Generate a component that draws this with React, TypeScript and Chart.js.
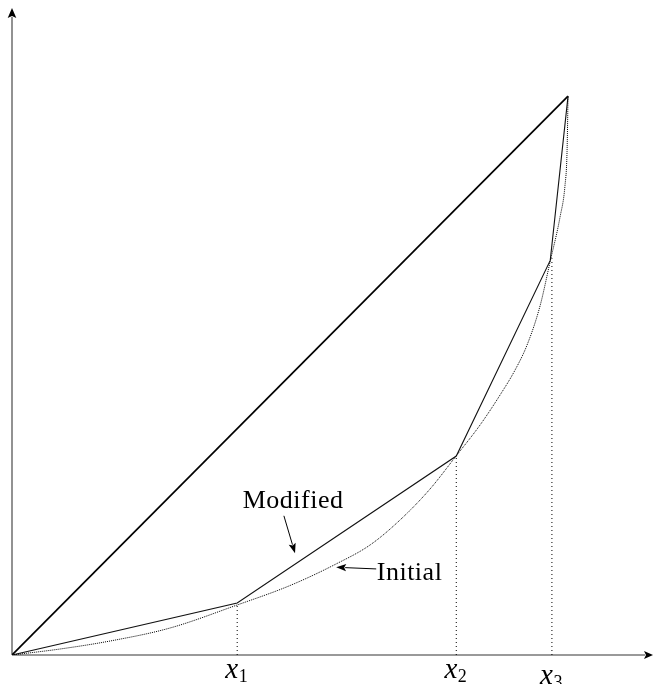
import React, { useEffect, useRef } from "react";
import { Chart, registerables } from "chart.js";

Chart.register(...registerables);

// Initial (Lorenz-type) curve
const curveX = [0, 8.63, 17.63, 28.42, 40.47, 50.0, 58.27, 64.39, 69.78, 75.18, 79.86, 84.17, 87.77, 90.47, 92.63, 94.96, 96.76, 98.56, 99.46, 99.82, 100];
const curveY = [0, 1.07, 2.5, 4.83, 8.94, 12.43, 16.28, 19.68, 24.15, 29.7, 35.6, 41.14, 46.51, 50.98, 55.46, 62.43, 70.3, 78.35, 84.08, 89.98, 100];

// Modified piecewise-linear curve
const modifiedX = [0, 40.5, 79.9, 96.8, 100];
const modifiedY = [0, 9.3, 35.6, 70.6, 100];

// Line of equality
const equalityX = [0, 100];
const equalityY = [0, 100];

// Cut points x1, x2, x3 and the height of their dotted guides
const cutX = [40.5, 79.9, 97.1];
const cutTop = [8.9, 35.6, 71.0];
const cutSubscripts = ["1", "2", "3"];

const zip = (xs: number[], ys: number[]) => xs.map((x, i) => ({ x, y: ys[i] }));

const SERIF = "'Liberation Serif', 'Times New Roman', serif";

function drawArrow(ctx: CanvasRenderingContext2D, x0: number, y0: number, x1: number, y1: number, len: number, half: number, color: string, lw: number) {
  const dx = x1 - x0, dy = y1 - y0;
  const d = Math.hypot(dx, dy);
  const ux = dx / d, uy = dy / d;
  const bx = x1 - ux * len, by = y1 - uy * len;
  ctx.save();
  ctx.strokeStyle = color;
  ctx.lineWidth = lw;
  ctx.beginPath();
  ctx.moveTo(x0, y0);
  ctx.lineTo(bx + ux * 1, by + uy * 1);
  ctx.stroke();
  ctx.fillStyle = "#000";
  ctx.beginPath();
  ctx.moveTo(x1, y1);
  ctx.lineTo(bx - uy * half, by + ux * half);
  ctx.lineTo(bx + ux * 2, by + uy * 2);
  ctx.lineTo(bx + uy * half, by - ux * half);
  ctx.closePath();
  ctx.fill();
  ctx.restore();
}

const decorPlugin = {
  id: "decor",
  beforeDatasetsDraw(chart: any) {
    const ctx: CanvasRenderingContext2D = chart.ctx;
    const xs = chart.scales.x, ys = chart.scales.y;
    const ox = xs.getPixelForValue(0), oy = ys.getPixelForValue(0);
    // axes with arrows
    drawArrow(ctx, ox, oy, chart.width - 1, oy, 9, 4, "#777", 1.6);
    drawArrow(ctx, ox, oy, ox, 8, 10, 4.3, "#777", 1.6);
  },
  afterDatasetsDraw(chart: any) {
    const ctx: CanvasRenderingContext2D = chart.ctx;
    const xs = chart.scales.x, ys = chart.scales.y;
    const px = (v: number) => xs.getPixelForValue(v);
    const py = (v: number) => ys.getPixelForValue(v);
    ctx.save();
    ctx.fillStyle = "#000";
    ctx.textBaseline = "alphabetic";
    // x labels
    const drops = [0, 0, 6];
    cutX.forEach((v, i) => {
      const x = px(v) + 1;
      const base = py(0) + 23 + drops[i];
      ctx.font = "italic 29px " + SERIF;
      ctx.textAlign = "right";
      ctx.fillText("x", x, base);
      ctx.font = "18px " + SERIF;
      ctx.textAlign = "left";
      ctx.fillText(cutSubscripts[i], x + 0.5, base + 4);
    });
    // annotations
    ctx.font = "26px " + SERIF;
    (ctx as any).letterSpacing = "0.5px";
    ctx.textAlign = "left";
    ctx.fillText("Modified", px(41.5), py(26.3));
    ctx.fillText("Initial", px(65.6), py(13.4));
    (ctx as any).letterSpacing = "0px";
    ctx.restore();
    drawArrow(ctx, px(48.9), py(24.9), px(50.9), py(18.2), 10, 3.6, "#000", 1);
    drawArrow(ctx, px(65.5), py(15.4), px(58.3), py(15.7), 10, 3.6, "#000", 1);
  },
};

export default function App() {
  const ref = useRef<HTMLCanvasElement>(null);
  useEffect(() => {
    if (!ref.current) return;
    const guides = cutX.map((x, i) => ({
      data: [{ x, y: 0 }, { x, y: cutTop[i] }],
      borderColor: "#000",
      borderWidth: 1,
      borderDash: [1, 3],
      pointRadius: 0,
      fill: false,
    }));
    const chart = new Chart(ref.current, {
      type: "line",
      data: {
        datasets: [
          ...guides,
          {
            data: zip(curveX, curveY),
            borderColor: "#000",
            borderWidth: 1,
            borderDash: [1, 1],
            cubicInterpolationMode: "monotone",
            pointRadius: 0,
            fill: false,
          },
          {
            data: zip(modifiedX, modifiedY),
            borderColor: "#111",
            borderWidth: 1.1,
            tension: 0,
            pointRadius: 0,
            fill: false,
          },
          {
            data: zip(equalityX, equalityY),
            borderColor: "#000",
            borderWidth: 1.7,
            tension: 0,
            pointRadius: 0,
            fill: false,
          },
        ],
      } as any,
      options: {
        responsive: false,
        animation: false,
        devicePixelRatio: 1,
        layout: { padding: { left: 12, top: 10, right: 2, bottom: 29 } },
        plugins: { legend: { display: false }, tooltip: { enabled: false } },
        scales: {
          x: { type: "linear", display: false, min: 0, max: 115.1 },
          y: { type: "linear", display: false, min: 0, max: 115.4 },
        },
        elements: { point: { radius: 0 } },
      } as any,
      plugins: [decorPlugin],
    });
    return () => chart.destroy();
  }, []);
  return (
    <div style={{ position: "absolute", left: 0, top: 0, width: 654, height: 684, background: "#fff" }}>
      <canvas ref={ref} width={654} height={684} style={{ display: "block", width: 654, height: 684 }} />
    </div>
  );
}
